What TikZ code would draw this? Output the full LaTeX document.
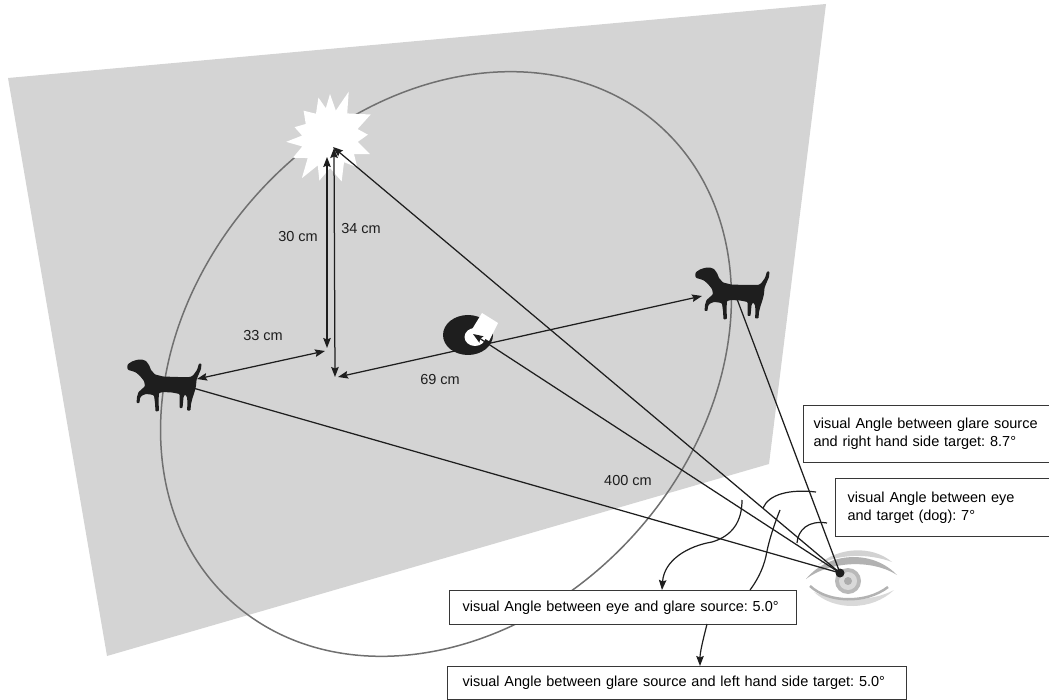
\documentclass[tikz,border=0pt]{standalone}
\usepackage{fontspec}
\setmainfont{Liberation Sans}
\usetikzlibrary{arrows.meta}
\definecolor{plane}{RGB}{212,212,212}
\definecolor{rimline}{RGB}{112,112,112}
\definecolor{ink}{RGB}{30,30,30}
\definecolor{boxline}{RGB}{55,55,55}

% dog silhouette, nose at the origin, y pointing down
\newcommand{\dogshape}{%
  (0,0) -- (1,-3) -- (5,-5.5) -- (10,-7.2) -- (15,-7.5) -- (19,-6) -- (22,-2)
  -- (24,3) -- (28,7.5) -- (36,9.5) -- (50,10) -- (63,10) -- (66,8.5) -- (70,3)
  -- (72,-3.5) -- (74.5,-3.5) -- (74,2) -- (71,9) -- (69.5,13) -- (69,19)
  -- (67.5,25) -- (65.5,31) -- (64,37) -- (63.5,43.5) -- (60,43.5) -- (60.5,36)
  -- (60,30) -- (58,27.5) -- (56.5,30) -- (56,36) -- (55.5,41) -- (52.5,41)
  -- (52.5,34) -- (52.5,27) -- (45,25.5) -- (36,25) -- (32,26) -- (31.5,34)
  -- (32,44) -- (28.5,44.5) -- (28,36) -- (27,28.5) -- (24,27.5) -- (19,27)
  -- (15,28.5) -- (13,31) -- (12.5,36) -- (9.5,36) -- (10,30) -- (11.5,25)
  -- (15,22) -- (18,19) -- (17,14) -- (13,9) -- (9,5.5) -- (5,4) -- (1,3) -- cycle}

\begin{document}
\begin{tikzpicture}[x=1pt, y=1pt, yscale=-1,
  font=\fontsize{14.5}{18}\selectfont\frenchspacing,
  conn/.style={draw=ink, line width=1.25pt},
  tip/.style={-{Stealth[length=10pt,width=7.5pt,inset=1.5pt]}},
  dtip/.style={{Stealth[length=10pt,width=7.5pt,inset=1.5pt]}-{Stealth[length=10pt,width=7.5pt,inset=1.5pt]}},
  arcline/.style={draw=ink, line width=1.2pt},
  box/.style={draw=boxline, line width=1.2pt, fill=white, anchor=north west,
    align=left, inner ysep=0pt},
  dim/.style={text=ink, inner sep=1pt},
  dogfill/.style={fill=ink, rounded corners=0.8pt}
]
\useasboundingbox (0,0) rectangle (1049,700);
\clip (0,0) rectangle (1049,700);

% the wall
\fill[plane] (8,78) -- (826,4) -- (769,464) -- (107,656) -- cycle;

% circle of targets seen in perspective
\coordinate (C) at (446,364);
\draw[rimline, line width=1.5pt, rotate around={-48:(C)}] (C) ellipse [x radius=320, y radius=254];

% glare source
\fill[white, shift={(330,138)}]
  (270:44) -- (282:28) -- (292:50) -- (305:30) -- (330:47) -- (342:29) -- (355:38)
  -- (8:28) -- (22:43) -- (34:29) -- (47:40) -- (60:28) -- (75:45) -- (90:30)
  -- (104:44) -- (114:30) -- (125:49) -- (138:30) -- (152:42) -- (163:29)
  -- (175:44) -- (185:28) -- (197:37) -- (210:28) -- (226:38) -- (240:28)
  -- (254:42) -- (262:30) -- cycle;

% key points
\coordinate (E)   at (840,573);
\coordinate (S)   at (333,147);
\coordinate (R)   at (473,334);
\coordinate (LD)  at (193,388);
\coordinate (RD)  at (737,299);
\coordinate (a30) at (327,157);
\coordinate (b30) at (327,348);
\coordinate (a34) at (334,148);
\coordinate (b34) at (335,377);
\coordinate (a33) at (197,379);
\coordinate (b33) at (325,351);
\coordinate (a69) at (338,377);
\coordinate (b69) at (702,296);

% the eye
\fill[gray!30] (814,592) .. controls (834,611) and (872,611) .. (894,590)
  .. controls (872,602) and (836,602) .. (814,592) -- cycle;
\fill[white] (808,580) .. controls (830,558) and (870,556) .. (894,576)
  .. controls (872,600) and (830,602) .. (808,580) -- cycle;
\fill[gray!35] (818,565) .. controls (838,547) and (872,545) .. (892,562)
  .. controls (868,553) and (838,554) .. (818,565) -- cycle;
\fill[gray!60] (806,579) .. controls (828,552) and (872,549) .. (897,575)
  .. controls (872,559) and (830,561) .. (806,579) -- cycle;
\draw[gray!60, line width=2.5pt] (810,586) .. controls (828,603) and (866,604) .. (888,587);
\fill[gray!55] (848,581) circle (13);
\fill[gray!30] (848,581) circle (9);
\fill[gray!65] (848,581) circle (4);
\fill[ink] (840,573) circle (4.5);

% dimension lines on the wall
\draw[conn, dtip] (a30) -- (b30);
\draw[conn, dtip] (a34) -- (b34);
\draw[conn, dtip] (a33) -- (b33);
\draw[conn, dtip] (a69) -- (b69);

% lines of sight
\draw[conn, tip] (E) -- (S);
\draw[conn] (E) -- (RD);
\draw[conn] (E) -- (LD);

% targets
\coordinate (dogL) at (127,367);
\coordinate (dogR) at (695,275);
\path[dogfill, shift={(dogL)}] \dogshape;
\path[dogfill, shift={(dogR)}] \dogshape;

% fixation ring
\coordinate (ring) at (468,335);
\fill[ink] (ring) ellipse [x radius=25, y radius=20];
\fill[white] (475,337) ellipse [x radius=10.5, y radius=9];
\fill[white] (471,331) -- (482,313) -- (498,323) -- (489,341) -- cycle;
\draw[conn, tip] (E) -- (R);

% boxes
\node[box, minimum width=262pt, minimum height=57pt, text width=242pt, inner xsep=10pt]
  (b1) at (803,405) {visual Angle between glare source\\and right hand side target: 8.7°};
\node[box, minimum width=229pt, minimum height=58pt, text width=205pt, inner xsep=12pt]
  (b2) at (835,478) {visual Angle between eye\\and target (dog): 7°};
\node[box, minimum width=347pt, minimum height=34pt, text width=321pt, inner xsep=13pt]
  (b3) at (449,590) {visual Angle between eye and glare source: 5.0°};
\node[box, minimum width=459pt, minimum height=33pt, text width=429pt, inner xsep=15pt]
  (b4) at (447,666) {visual Angle between glare source and left hand side target: 5.0°};

% angle arcs and leaders
\coordinate (p1) at (742,500);
\coordinate (m1) at (712,542);
\coordinate (q1) at (662,590);
\draw[arcline, tip] (p1) .. controls (742,522) and (732,536) .. (m1)
  .. controls (688,546) and (664,560) .. (q1);
\coordinate (p2) at (780,510);
\coordinate (m2) at (766,556);
\coordinate (q2) at (750,590);
\draw[arcline] (p2) .. controls (772,530) and (768,545) .. (m2)
  .. controls (763,570) and (756,582) .. (q2);
\coordinate (p3) at (763,508);
\coordinate (q3) at (816,492);
\draw[arcline] (p3) .. controls (769,494) and (790,489) .. (q3);
\coordinate (p4) at (797,543);
\coordinate (q4) at (827,523);
\draw[arcline] (p4) .. controls (798,530) and (808,520) .. (q4);
\coordinate (p5) at (707,624);
\coordinate (q5) at (700,666);
\draw[arcline, tip] (p5) .. controls (703,640) and (700,652) .. (q5);

% distance labels
\node[dim] (t30)  at (298,237) {30 cm};
\node[dim] (t34)  at (361,229) {34 cm};
\node[dim] (t33)  at (263,336) {33 cm};
\node[dim] (t69)  at (440,380) {69 cm};
\node[dim] (t400) at (628,481) {400 cm};
\end{tikzpicture}
\end{document}
